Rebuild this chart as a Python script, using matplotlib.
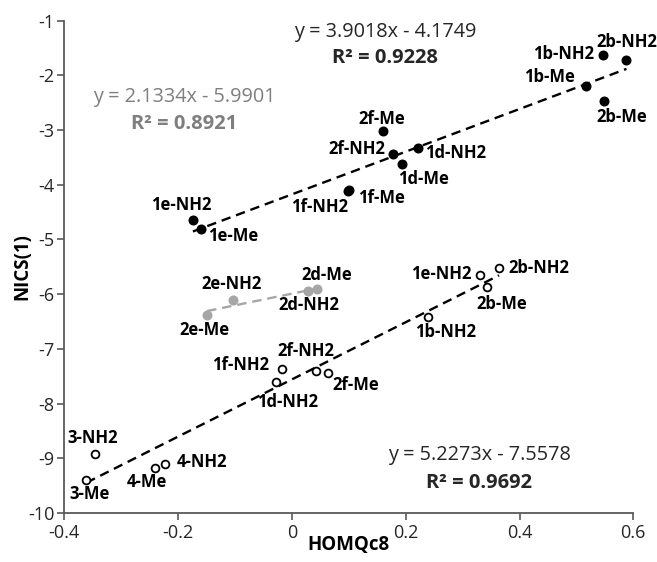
import matplotlib
matplotlib.use("Agg")
import matplotlib.pyplot as plt
import numpy as np

plt.rcParams['font.family'] = ['Open Sans', 'DejaVu Sans']

# ---- data ----
s1_labels = ["1e-NH2", "1e-Me", "1f-NH2", "1f-Me", "2f-Me", "2f-NH2", "1d-Me", "1d-NH2",
             "1b-NH2", "1b-Me", "2b-NH2", "2b-Me"]
s1_x = [-0.174, -0.159, 0.098, 0.101, 0.160, 0.178, 0.194, 0.221, 0.546, 0.517, 0.588, 0.549]
s1_y = [-4.64, -4.80, -4.11, -4.09, -3.01, -3.44, -3.62, -3.33, -1.63, -2.19, -1.72, -2.47]

s2_labels = ["2e-NH2", "2e-Me", "2d-Me", "2d-NH2"]
s2_x = [-0.103, -0.149, 0.044, 0.029]
s2_y = [-6.11, -6.38, -5.91, -5.94]

s3_labels = ["1e-NH2", "2b-NH2", "2b-Me", "1b-NH2", "2f-NH2", "1f-NH2", "2f-Me", "1d-NH2",
             "3-NH2", "3-Me", "4-Me", "4-NH2"]
s3_x = [0.331, 0.364, 0.343, 0.240, 0.043, -0.018, 0.064, -0.028, -0.346, -0.361, -0.241, -0.223]
s3_y = [-5.65, -5.53, -5.86, -6.41, -7.40, -7.36, -7.44, -7.60, -8.92, -9.40, -9.17, -9.10]

fit1 = (3.9018, -4.1749, 0.9228)
fit2 = (2.1334, -5.9901, 0.8921)
fit3 = (5.2273, -7.5578, 0.9692)

x_ticks = [-0.4, -0.2, 0, 0.2, 0.4, 0.6]
y_ticks = [-10, -9, -8, -7, -6, -5, -4, -3, -2, -1]

# ---- label offsets in pixels (style) ----
off1 = [(-12, 15), (32, -7), (-28, -16), (32, -8), (-1, 12), (-36, 5), (21, -15), (38, -5),
        (-39, 1), (-37, 9), (0, 18), (18, -16)]
off2 = [(-2, 16), (-3, -15), (10, 14), (0, -14)]
off3 = [(-39, 1), (40, 0), (15, -17), (17, -15), (-11, 20), (-41, 4), (27, -12), (12, -20),
        (-2, 16), (3, -14), (-8, -14), (37, 2)]

fig = plt.figure(figsize=(6.57, 5.62), dpi=100)
ax = fig.add_axes([64.3 / 657, 49 / 562, 569 / 657, 492.3 / 562])

gray = "#a6a6a6"
axcol = "#595959"

def trend(fit, xs, color):
    xx = np.array([min(xs), max(xs)])
    ax.plot(xx, fit[0] * xx + fit[1], color=color, lw=1.7, ls=(0, (4, 2.5)), zorder=2)

trend(fit1, s1_x, "black")
trend(fit2, s2_x, gray)
trend(fit3, s3_x, "black")

ax.plot(s1_x, s1_y, 'o', color='black', ms=6.2, zorder=3)
ax.plot(s2_x, s2_y, 'o', color=gray, ms=6.2, zorder=3)
ax.plot(s3_x, s3_y, 'o', mfc='white', mec='black', mew=1.3, ms=5.6, zorder=3)

lab_kw = dict(textcoords='offset pixels', ha='center', va='center', fontsize=12,
              fontweight='bold', color='black', zorder=4)
for labs, xs, ys, offs in [(s1_labels, s1_x, s1_y, off1), (s2_labels, s2_x, s2_y, off2),
                           (s3_labels, s3_x, s3_y, off3)]:
    for l, x, y, o in zip(labs, xs, ys, offs):
        ax.annotate(l, (x, y), xytext=o, **lab_kw)

def eqtext(fit, px, py, py2, color):
    fig.text(px / 657, 1 - py / 562, f"y = {fit[0]:.4f}x - {abs(fit[1]):.4f}",
             ha='center', va='center', fontsize=14.3, color=color)
    fig.text(px / 657, 1 - py2 / 562, f"R² = {fit[2]:.4f}",
             ha='center', va='center', fontsize=14.5, fontweight='bold', color=color)

eqtext(fit1, 385, 32, 58, "#262626")
eqtext(fit2, 184, 97, 124, "#7f7f7f")
eqtext(fit3, 479, 455, 483, "#262626")

ax.set_xlim(-0.4, 0.6)
ax.set_ylim(-10, -1)
ax.set_xticks(x_ticks)
ax.set_xticklabels([f"{v:g}" for v in x_ticks])
ax.set_yticks(y_ticks)
ax.set_yticklabels([f"{v:g}" for v in y_ticks])
ax.tick_params(axis='both', direction='out', length=5, width=1.2, color=axcol,
               labelsize=13, labelcolor='#262626')
ax.tick_params(axis='x', pad=3)
ax.tick_params(axis='y', pad=2)
for s in ['top', 'right']:
    ax.spines[s].set_visible(False)
for s in ['left', 'bottom']:
    ax.spines[s].set_color(axcol)
    ax.spines[s].set_linewidth(1.3)

ax.set_xlabel("HOMQc8", fontsize=13.5, fontweight='bold')
ax.xaxis.set_label_coords(0.5, -(545 - 513) / 492.3)
ax.xaxis.label.set_va('center')
ax.set_ylabel("NICS(1)", fontsize=13.5, fontweight='bold')
ax.yaxis.set_label_coords(-(64.3 - 22.5) / 569, 0.5)
ax.yaxis.label.set_va('center')

fig.savefig("out.png", dpi=100)
